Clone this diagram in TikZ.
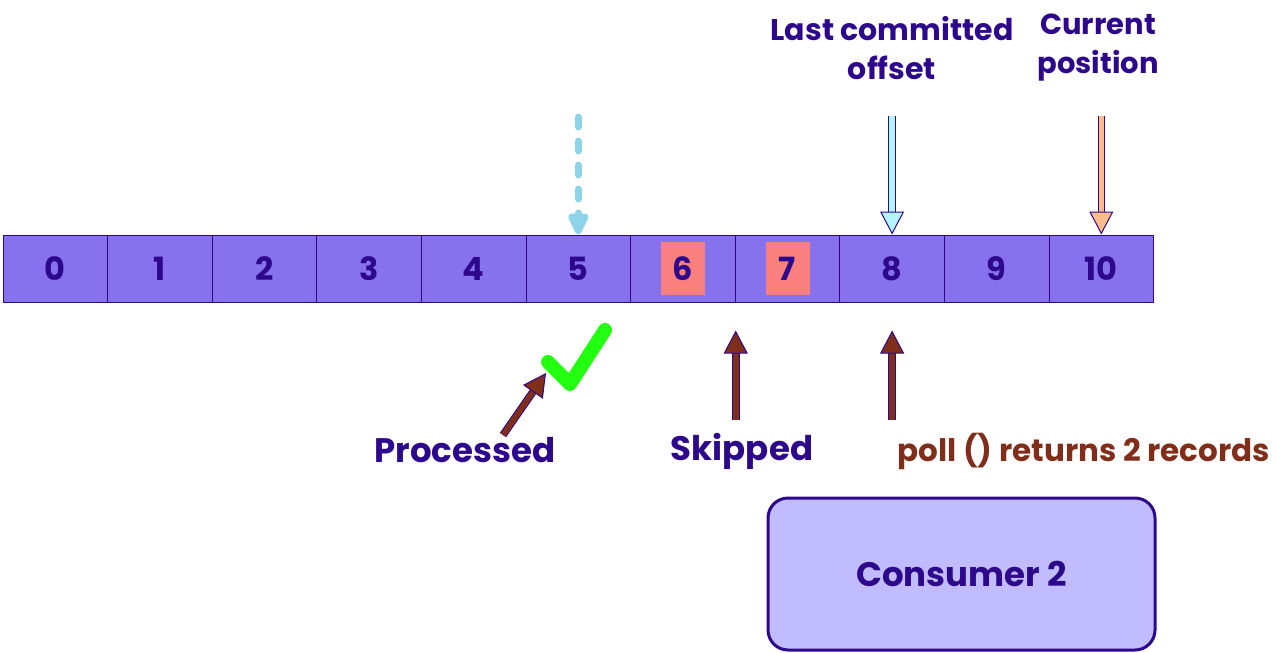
\documentclass[tikz,border=0pt]{standalone}
\usepackage{fontspec}
\setmainfont{Poppins}
\usetikzlibrary{arrows.meta}
\definecolor{ink}{RGB}{46,8,140}
\definecolor{cellblue}{RGB}{134,114,236}
\definecolor{hotred}{RGB}{250,128,128}
\definecolor{skyline}{RGB}{142,212,232}
\definecolor{paleblue}{RGB}{180,244,255}
\definecolor{peach}{RGB}{255,187,136}
\definecolor{rust}{RGB}{128,46,26}
\definecolor{okgreen}{RGB}{34,255,17}
\definecolor{boxfill}{RGB}{192,188,255}
\tikzset{
  cell/.style = {draw=ink,line width=0.5pt,fill=cellblue,minimum width=52.3pt,
    minimum height=33.5pt,inner sep=0pt,text=ink,font=\bfseries\fontsize{16}{20}\selectfont},
  hot/.style  = {fill=hotred,minimum width=22pt,minimum height=26.5pt,inner sep=0pt,
    text=ink,font=\bfseries\fontsize{16}{20}\selectfont},
  note/.style = {text=ink,align=center,inner sep=0pt,font=\bfseries\fontsize{#1}{19.5}\selectfont},
  note/.default = 17,
  ptr/.style  = {draw=ink,line width=0.5pt,double=#1,double distance=2.8pt,
    -{Triangle[width=12pt,length=11.5pt,fill=#1]}},
}

\begin{document}
\begin{tikzpicture}[x=0.5pt,y=-0.5pt]
  \useasboundingbox (0,0) rectangle (1277,652);
  % the log
  \foreach \i in {0,...,10}
    \node[cell] (c\i) at ({3+104.6*(\i+0.5)},268.5) {\i};
  \node[hot] (h6) at (c6) {6};
  \node[hot] (h7) at (c7) {7};

  % pointers from above
  \coordinate (d5) at (c5.north |- 0,117);
  \coordinate (t8) at (c8.north |- 0,116);
  \coordinate (t10) at (c10.north |- 0,116);
  \draw[skyline,line width=3.5pt,line cap=round,dash pattern=on 5pt off 7pt,
    -{Triangle[width=11pt,length=13pt,round]}] (d5) -- (c5.north);
  \draw[ptr=paleblue] (t8) -- (c8.north);
  \draw[ptr=peach] (t10) -- (c10.north);
  \node[note=15] (last) at (892,48) {Last committed\\offset};
  \node[note=14.5] (cur) at (1098,48) {Current\\position};

  % pointers from below
  \draw[okgreen,line width=7pt,line cap=round,line join=round]
    (548,362) -- (570,384) coordinate (ok) -- (605,330);
  \coordinate (p0) at (503,435);
  \coordinate (s0) at (c6.south east |- 0,420);
  \coordinate (q0) at (c8.south |- 0,420);
  \draw[ptr=rust] (p0) -- (546,373);
  \draw[ptr=rust,shorten >=14pt] (s0) -- (c6.south east);
  \draw[ptr=rust,shorten >=14pt] (q0) -- (c8.south);
  \node[note] (proc) at (465,450) {Processed};
  \node[note] (skip) at (742,451) {Skipped};
  \node[note=15.5,text=rust,anchor=west] (poll) at (897,451) {poll () returns 2 records};

  \node[draw=ink,line width=1.5pt,fill=boxfill,rounded corners=10pt,minimum width=193.5pt,
    minimum height=76pt,note] (cons) at (961.5,574) {Consumer 2};
\end{tikzpicture}
\end{document}
